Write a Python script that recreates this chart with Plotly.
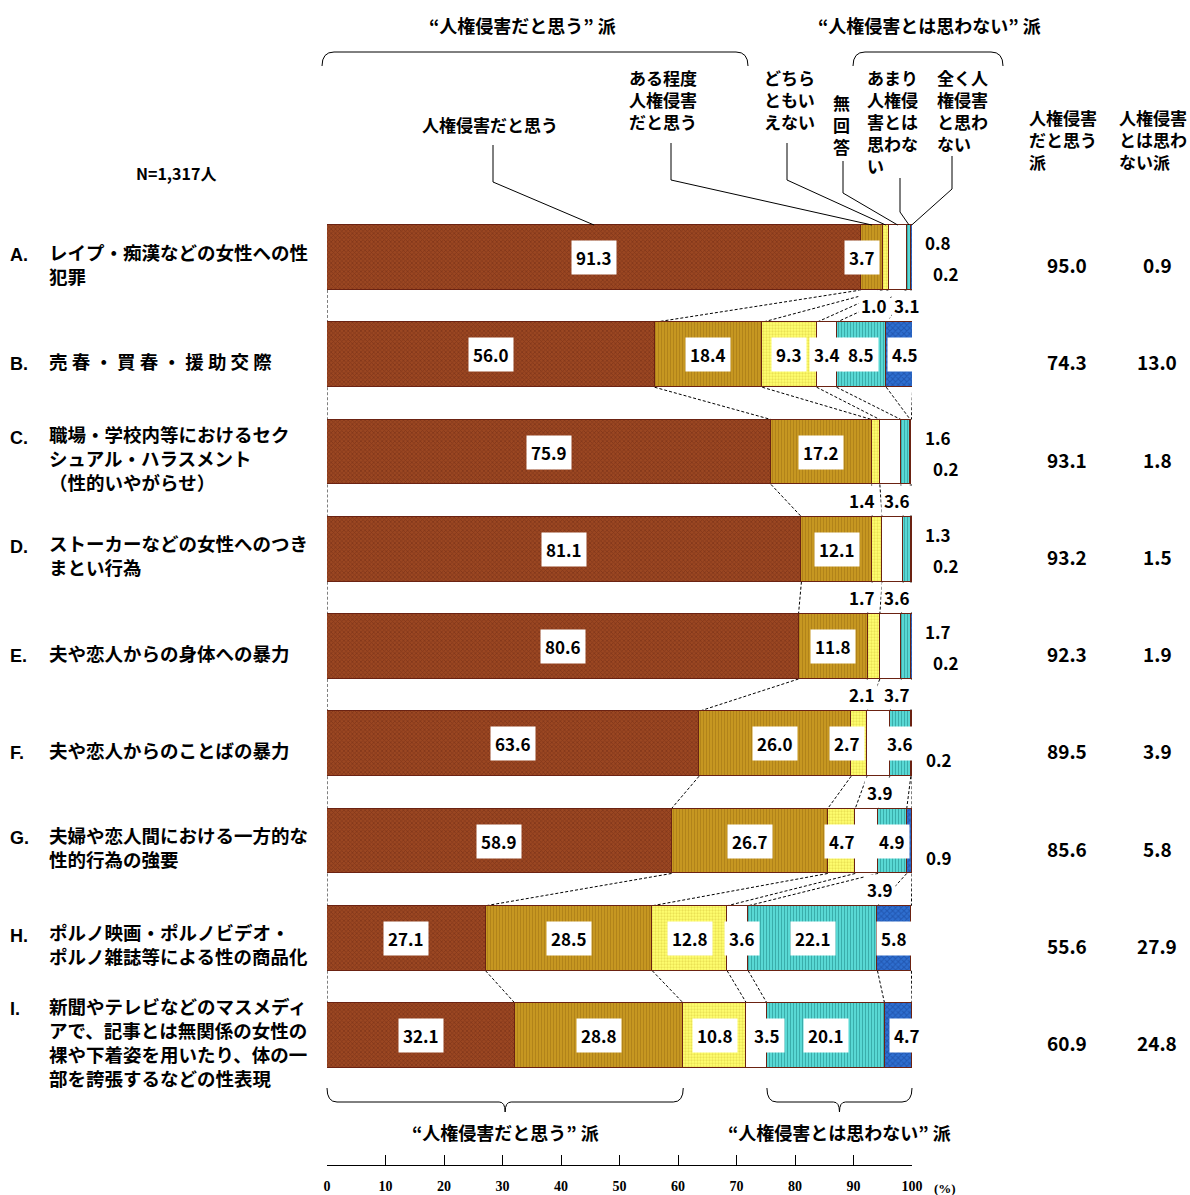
import plotly.graph_objects as go

# ---------------------------------------------------------------- data
row_keys = ["A.", "B.", "C.", "D.", "E.", "F.", "G.", "H.", "I."]
row_texts = [
    "レイプ・痴漢などの女性への性<br>犯罪",
    "売 春 ・ 買 春 ・ 援 助 交 際",
    "職場・学校内等におけるセク<br>シュアル・ハラスメント<br>（性的いやがらせ）",
    "ストーカーなどの女性へのつき<br>まとい行為",
    "夫や恋人からの身体への暴力",
    "夫や恋人からのことばの暴力",
    "夫婦や恋人間における一方的な<br>性的行為の強要",
    "ポルノ映画・ポルノビデオ・<br>ポルノ雑誌等による性の商品化",
    "新聞やテレビなどのマスメディ<br>アで、記事とは無関係の女性の<br>裸や下着姿を用いたり、体の一<br>部を誇張するなどの性表現",
]
seg_names = ["人権侵害だと思う", "ある程度人権侵害だと思う", "どちらともいえない",
             "無回答", "あまり人権侵害とは思わない", "全く人権侵害と思わない"]
strongly_yes = [91.3, 56.0, 75.9, 81.1, 80.6, 63.6, 58.9, 27.1, 32.1]
somewhat_yes = [3.7, 18.4, 17.2, 12.1, 11.8, 26.0, 26.7, 28.5, 28.8]
neutral = [1.0, 9.3, 1.4, 1.7, 2.1, 2.7, 4.7, 12.8, 10.8]
no_answer = [3.1, 3.4, 3.6, 3.6, 3.7, 3.9, 3.9, 3.6, 3.5]
not_really = [0.8, 8.5, 1.6, 1.3, 1.7, 3.6, 4.9, 22.1, 20.1]
not_at_all = [0.2, 4.5, 0.2, 0.2, 0.2, 0.2, 0.9, 5.8, 4.7]
group_yes = [95.0, 74.3, 93.1, 93.2, 92.3, 89.5, 85.6, 55.6, 60.9]
group_no = [0.9, 13.0, 1.8, 1.5, 1.9, 3.9, 5.8, 27.9, 24.8]
x_ticks = [0, 10, 20, 30, 40, 50, 60, 70, 80, 90, 100]
sample_note = "N=1,317人"

series = [strongly_yes, somewhat_yes, neutral, no_answer, not_really, not_at_all]

# ---------------------------------------------------------------- styling
FONT = "Noto Sans CJK JP"
SERIF = "Liberation Serif"
fills = [  # (background, pattern colour, pattern shape, pattern size)
    ("#9b4722", "#6a2410", "x", 3),
    ("#c99a22", "#9a6c12", "|", 3),
    ("#ffff70", "#d6c43a", ".", 3),
    ("#ffffff", "#ffffff", "", 3),
    ("#5fe0dc", "#157a7a", "|", 3),
    ("#2f6fd0", "#143f90", "x", 4),
]
EDGE = "#6b2212"

W, H = 1190, 1195
L, R, T, B = 327, 912, 0, 1165        # plot box in page pixels
ROW0, ROW_STEP = 257.5, 97.25          # pixel centre of first row, row pitch
BAR_W = 0.668
Y_LO = (B - ROW0) / ROW_STEP
Y_HI = (T - ROW0) / ROW_STEP


def xp(px):
    return (px - L) / (R - L)


def yp(py):
    return (B - py) / (B - T)


def ydata_paper(y):
    return (Y_LO - y) / (Y_LO - Y_HI)


def xdata(px):
    return (px - L) / (R - L) * 100.0


n = len(row_keys)
rows = list(range(n))

fig = go.Figure()
for k, (name, vals) in enumerate(zip(seg_names, series)):
    bg, fg, shp, sz = fills[k]
    fig.add_trace(go.Bar(
        y=rows, x=vals, orientation="h", name=name, width=BAR_W,
        marker=dict(color=bg, line=dict(color=EDGE, width=1),
                    pattern=dict(shape=shp, fgcolor=fg, size=sz, solidity=0.45,
                                 fillmode="overlay")),
        hoverinfo="skip", showlegend=False,
    ))

ann = []
shapes = []


def label(x, y, text, size=16, xref="x", yref="y", xanchor="center",
          yanchor="middle", box=True, xshift=0, yshift=0, align="center",
          family=FONT, bold=True, pad=4):
    d = dict(x=x, y=y, xref=xref, yref=yref, text=text, showarrow=False,
             xanchor=xanchor, yanchor=yanchor, align=align,
             xshift=xshift, yshift=yshift,
             font=dict(family=family, size=size, color="black",
                       weight="bold" if bold else "normal"))
    if box:
        d.update(bgcolor="white", borderpad=pad)
    ann.append(d)


# cumulative boundaries per row
cums = []
for i in rows:
    c = [0.0]
    for vals in series:
        c.append(c[-1] + vals[i])
    cums.append(c)

# label placement for the thin segments
below = {(0, 2): 874, (0, 3): 907, (2, 2): 862, (2, 3): 897, (3, 2): 862,
         (3, 3): 897, (4, 2): 862, (4, 3): 897, (5, 3): 880, (6, 3): 880}
right_up = {(0, 4), (2, 4), (3, 4), (4, 4)}
right_dn = {(0, 5), (2, 5), (3, 5), (4, 5), (5, 5), (6, 5)}
nudge = {(0, 1): -10, (5, 2): -12, (1, 5): 6, (8, 5): 9, (8, 3): 10, (7, 3): 4}

for i in rows:
    for k, vals in enumerate(series):
        v = vals[i]
        txt = f"{v:.1f}"
        if (i, k) in below:
            label(xdata(below[(i, k)]), i + BAR_W / 2, txt, yshift=-16, size=17, pad=2)
        elif (i, k) in right_up:
            label(100, i, txt, xshift=26, yshift=15, size=17, pad=2)
        elif (i, k) in right_dn:
            has_up = (i, 4) in right_up
            label(100, i, txt, xshift=34 if has_up else 27, yshift=-16, size=17, pad=2)
        else:
            mid = (cums[i][k] + cums[i][k + 1]) / 2
            label(mid, i, txt, xshift=nudge.get((i, k), 0), size=17)

# dashed connectors between consecutive bars
for i in range(n - 1):
    for k in range(len(series) + 1):
        shapes.append(dict(type="line", xref="x", yref="y",
                           x0=cums[i][k], y0=i + BAR_W / 2,
                           x1=cums[i + 1][k], y1=i + 1 - BAR_W / 2,
                           line=dict(color="black", width=1, dash="3px,2px"),
                           layer="below"))

# row captions on the left
LINE = 23.5
for i in rows:
    nl = row_texts[i].count("<br>") + 1
    label(xp(47), i, row_texts[i], size=18.5, xref="paper", xanchor="left",
          box=False, align="left", yshift=-6)
    first = (nl - 1) * LINE / 2
    label(xp(8), i, row_keys[i], size=18, xref="paper", xanchor="left",
          box=False, yshift=-9 + first, family="Liberation Sans")

# totals on the right
for i in rows:
    label(xp(1067), i, f"{group_yes[i]:.1f}", size=19, xref="paper", box=False, yshift=-7)
    label(xp(1157), i, f"{group_no[i]:.1f}", size=19, xref="paper", box=False, yshift=-7)

label(xp(1027), yp(140), "人権侵害<br>だと思う<br>派", size=17, xref="paper",
      yref="paper", xanchor="left", align="left", box=False)
label(xp(1117), yp(140), "人権侵害<br>とは思わ<br>ない派", size=17, xref="paper",
      yref="paper", xanchor="left", align="left", box=False)

label(xp(176), yp(173), sample_note, size=16, xref="paper", yref="paper", box=False)

# top group headings and brackets
label(xp(522), yp(25), "“人権侵害だと思う” 派", size=18, xref="paper", yref="paper", box=False)
label(xp(930), yp(25), "“人権侵害とは思わない” 派", size=18, xref="paper", yref="paper", box=False)


def bracket_top(a, b, ytop, yend, r=12):
    return (f"M {xp(a)},{yp(yend)} Q {xp(a)},{yp(ytop)} {xp(a + r)},{yp(ytop)} "
            f"L {xp(b - r)},{yp(ytop)} Q {xp(b)},{yp(ytop)} {xp(b)},{yp(yend)}")


for a, b in [(322, 748), (853, 1003)]:
    shapes.append(dict(type="path", xref="paper", yref="paper",
                       path=bracket_top(a, b, 52, 66),
                       line=dict(color="black", width=1)))

# segment captions with leader lines to the first bar
captions = [
    ("人権侵害だと思う", 490, 125, "center", 493, 145, 182),
    ("ある程度<br>人権侵害<br>だと思う", 627, 99, "left", 671, 143, 180),
    ("どちら<br>ともい<br>えない", 762, 99, "left", 787, 143, 180),
    ("無<br>回<br>答", 841, 124, "center", 843, 161, 193),
    ("あまり<br>人権侵<br>害とは<br>思わな<br>い", 865, 121, "left", 900, 178, 212),
    ("全く人<br>権侵害<br>と思わ<br>ない", 935, 110, "left", 952, 156, 189),
]
bar_top = ydata_paper(0 - BAR_W / 2)
for k, (txt, cx, cy, anc, lx, ly0, ly1) in enumerate(captions):
    label(xp(cx), yp(cy), txt, size=17, xref="paper", yref="paper",
          xanchor=anc, align="left", box=False)
    end_x = (cums[0][k] + min(cums[0][k + 1], 100)) / 2 / 100
    shapes.append(dict(type="path", xref="paper", yref="paper",
                       path=f"M {xp(lx)},{yp(ly0)} L {xp(lx)},{yp(ly1)} L {end_x},{bar_top}",
                       line=dict(color="black", width=1)))

# bottom braces over the last row's group totals
last = n - 1
spans = [(0.0, group_yes[last], "“人権侵害だと思う” 派"),
         (100.0 - group_no[last], 100.0, "“人権侵害とは思わない” 派")]
for a, b, txt in spans:
    xa, xb = a / 100, b / 100
    xm = (xa + xb) / 2
    r = 10 / (R - L)
    path = (f"M {xa},{yp(1088)} Q {xa},{yp(1102)} {xa + r},{yp(1102)} "
            f"L {xm - r * 0.6},{yp(1102)} Q {xm},{yp(1102)} {xm},{yp(1112)} "
            f"Q {xm},{yp(1102)} {xm + r * 0.6},{yp(1102)} "
            f"L {xb - r},{yp(1102)} Q {xb},{yp(1102)} {xb},{yp(1088)}")
    shapes.append(dict(type="path", xref="paper", yref="paper", path=path,
                       line=dict(color="black", width=1)))
    label(xm, yp(1132), txt, size=18, xref="paper", yref="paper", box=False)

label(xp(945), yp(1188), "(%)", size=13, xref="paper", yref="paper", box=False,
      family=SERIF)

fig.update_layout(
    barmode="stack",
    width=W, height=H,
    margin=dict(l=L, r=W - R, t=T, b=H - B, pad=0),
    paper_bgcolor="white", plot_bgcolor="white",
    bargap=0,
    xaxis=dict(range=[0, 100], tickvals=x_ticks, ticktext=[str(t) for t in x_ticks],
               ticks="inside", ticklen=10, tickcolor="black", tickwidth=1,
               showline=True, linecolor="black", linewidth=1, showgrid=False,
               zeroline=False, ticklabelstandoff=8,
               tickfont=dict(family=SERIF, size=14, color="black", weight="bold"),
               fixedrange=True),
    yaxis=dict(range=[Y_LO, Y_HI], visible=False, fixedrange=True),
    annotations=ann,
    shapes=shapes,
)

fig.write_html("out.html")
